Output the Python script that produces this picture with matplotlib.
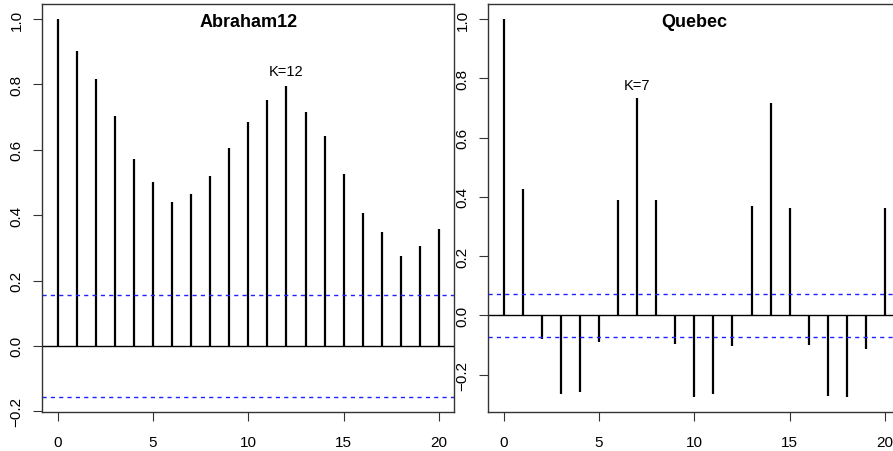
import matplotlib
matplotlib.use("Agg")
import matplotlib.pyplot as plt
import numpy as np

plt.rcParams['font.family'] = ['Liberation Sans', 'DejaVu Sans']

lags = list(range(21))

# sample autocorrelations, lags 0..20
acf_abraham = [1.0, 0.901, 0.817, 0.704, 0.573, 0.501, 0.441, 0.466, 0.519, 0.606,
               0.684, 0.752, 0.796, 0.715, 0.642, 0.525, 0.407, 0.348, 0.276, 0.307, 0.359]
acf_quebec = [1.0, 0.426, -0.079, -0.265, -0.257, -0.090, 0.388, 0.733, 0.391, -0.098,
              -0.274, -0.266, -0.103, 0.370, 0.717, 0.364, -0.099, -0.273, -0.276, -0.115, 0.364]

# 95% bounds +-1.96/sqrt(n)
clim_abraham = 0.157
clim_quebec = 0.073

panels = [
    ("Abraham12", acf_abraham, clim_abraham, 12, "K=12"),
    ("Quebec", acf_quebec, clim_quebec, 7, "K=7"),
]

W, H = 893, 452
fig = plt.figure(figsize=(W / 100, H / 100), dpi=100)

ax_top, ax_bot = 5, 413.3
ax_w = 412.0
lefts = [42.3, 488.3]

for left, (name, acf, clim, k, klabel) in zip(lefts, panels):
    ax = fig.add_axes([left / W, (H - ax_bot) / H, ax_w / W, (ax_bot - ax_top) / H])
    acf = np.array(acf)

    ax.vlines(lags, 0, acf, color="black", lw=1.6)
    ax.axhline(0, color="black", lw=1.0)
    for c in (clim, -clim):
        ax.axhline(c, color="#2020ff", lw=1.0, linestyle=(0, (3, 3)))

    # R-style 4% padding around the data range
    ymin = min(acf.min(), -clim)
    ymax = max(acf.max(), clim)
    pad = 0.04 * (ymax - ymin)
    ax.set_ylim(ymin - pad, ymax + pad)
    ax.set_xlim(-0.8, 20.8)

    ax.set_xticks([0, 5, 10, 15, 20])
    yt = np.arange(-0.2, 1.01, 0.2)
    ax.set_yticks(yt)
    ax.set_yticklabels([f"{v:.1f}".replace("-", "\u2212") for v in yt],
                       rotation=90, va="center")
    ax.tick_params(length=6.5, width=0.8, color="#333333", labelsize=11)
    ax.tick_params(axis="x", pad=9.5)
    ax.tick_params(axis="y", pad=7)
    for sp in ax.spines.values():
        sp.set_color("#333333")
        sp.set_linewidth(1.0)

    ax.text(0.5, 1 - 17 / (ax_bot - ax_top), name, transform=ax.transAxes,
            ha="center", va="center", fontsize=13, fontweight="bold")
    ax.text(k, acf[k] + 0.045, klabel, ha="center", va="center", fontsize=10.5)

fig.savefig("out.png", dpi=100)
